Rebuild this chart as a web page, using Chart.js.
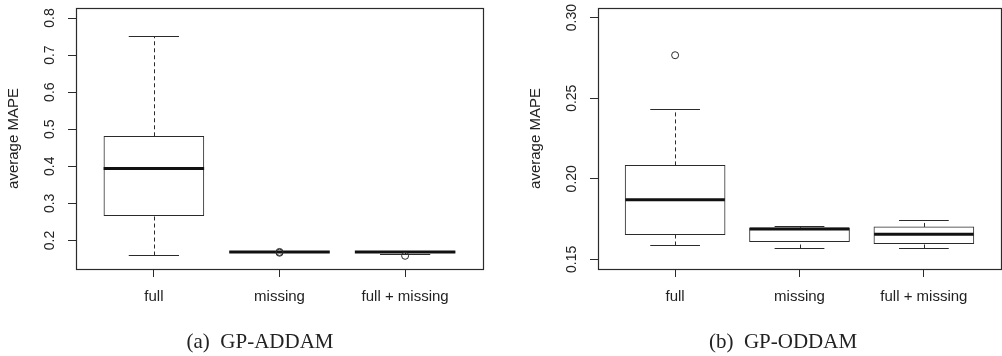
<!DOCTYPE html>
<html lang="en">
<head>
<meta charset="UTF-8">
<title>average MAPE boxplots</title>
<script src="https://cdn.jsdelivr.net/npm/chart.js"></script>
<style>
  body { margin: 0; width: 1002px; height: 356px; overflow: hidden; background: #fff; position: relative; }
  .panel { position: absolute; top: 0; height: 356px; }
  #left-panel { left: 0; width: 500px; }
  #right-panel { left: 522px; width: 484px; }
  .caption { position: absolute; top: 329px; line-height: 24px; font-family: "Liberation Serif", serif; font-size: 21px; color: #222; transform: translateX(-50%); white-space: nowrap; }
</style>
</head>
<body>

<div class="panel" id="left-panel"><canvas id="addamChart"></canvas></div>
<div class="panel" id="right-panel"><canvas id="oddamChart"></canvas></div>
<div class="caption" style="left:260px">(a)&nbsp; GP-ADDAM</div>
<div class="caption" style="left:783px">(b)&nbsp; GP-ODDAM</div>

<script>
    const groups = ["full", "missing", "full + missing"];

    // (a) GP-ADDAM
    const addamLow  = [0.161, 0.1688, 0.1623];
    const addamQ1   = [0.267, 0.1684, 0.1680];
    const addamMed  = [0.394, 0.1688, 0.1688];
    const addamQ3   = [0.481, 0.1692, 0.1694];
    const addamHigh = [0.752, 0.1692, 0.1694];
    const addamOutGroup = [2, 2, 3];
    const addamOutValue = [0.1690, 0.1668, 0.1586];

    // (b) GP-ODDAM
    const oddamLow  = [0.1587, 0.1571, 0.1568];
    const oddamQ1   = [0.1653, 0.1610, 0.1597];
    const oddamMed  = [0.1870, 0.1688, 0.1655];
    const oddamQ3   = [0.2083, 0.1696, 0.1701];
    const oddamHigh = [0.2432, 0.1704, 0.1742];
    const oddamOutGroup = [1];
    const oddamOutValue = [0.2767];

    const ink = "#2b2b2b";

    // whiskers under the boxes, medians on top, frame around the plot
    const boxWhiskers = {
        id: "boxWhiskers",
        beforeDatasetsDraw(chart, args, opts) {
            const { ctx, scales: { x, y } } = chart;
            const line = (x1, y1, x2, y2) => {
                ctx.beginPath(); ctx.moveTo(x1, y1); ctx.lineTo(x2, y2); ctx.stroke();
            };
            ctx.save();
            ctx.strokeStyle = ink;
            ctx.lineWidth = 1;
            opts.low.forEach((lo, i) => {
                const cx = Math.round(x.getPixelForValue(i + 1)) + 0.5;
                const capL = x.getPixelForValue(i + 1 - 0.2);
                const capR = x.getPixelForValue(i + 1 + 0.2);
                const yLo = Math.round(y.getPixelForValue(lo)) + 0.5;
                const yHi = Math.round(y.getPixelForValue(opts.high[i])) + 0.5;
                ctx.setLineDash([4, 3]);
                line(cx, yLo, cx, y.getPixelForValue(opts.q1[i]));
                line(cx, y.getPixelForValue(opts.q3[i]), cx, yHi);
                ctx.setLineDash([]);
                line(capL, yLo, capR, yLo);
                line(capL, yHi, capR, yHi);
            });
            ctx.restore();
        },
        afterDatasetDraw(chart, args, opts) {
            if (args.index !== 0) return;
            const { ctx, scales: { x, y } } = chart;
            ctx.save();
            ctx.strokeStyle = "#111";
            ctx.lineWidth = 3;
            opts.med.forEach((m, i) => {
                const ym = y.getPixelForValue(m);
                ctx.beginPath();
                ctx.moveTo(x.getPixelForValue(i + 1 - 0.4), ym);
                ctx.lineTo(x.getPixelForValue(i + 1 + 0.4), ym);
                ctx.stroke();
            });
            ctx.restore();
        },
        afterDraw(chart) {
            const { ctx, chartArea: a } = chart;
            ctx.save();
            ctx.strokeStyle = ink;
            ctx.lineWidth = 1.2;
            ctx.strokeRect(Math.round(a.left) + 0.5, Math.round(a.top) + 0.5,
                           Math.round(a.right - a.left), Math.round(a.bottom - a.top));
            ctx.restore();
        }
    };

    function makeBoxChart(canvasId, s) {
        return new Chart(document.getElementById(canvasId), {
            type: "bar",
            data: {
                datasets: [
                    {
                        label: "box",
                        data: groups.map((g, i) => ({ x: i + 1, y: [s.q1[i], s.q3[i]] })),
                        backgroundColor: "#fff",
                        borderColor: ink,
                        borderWidth: 1,
                        borderSkipped: false,
                        barThickness: 100,
                        order: 0
                    },
                    {
                        type: "scatter",
                        label: "outliers",
                        data: s.outGroup.map((g, i) => ({ x: g, y: s.outValue[i] })),
                        pointStyle: "circle",
                        pointRadius: 3.5,
                        pointBorderWidth: 1,
                        pointBorderColor: ink,
                        pointBackgroundColor: "rgba(0,0,0,0)",
                        order: -1
                    }
                ]
            },
            options: {
                responsive: true,
                maintainAspectRatio: false,
                animation: false,
                layout: { padding: { top: 8, bottom: 47, left: 0, right: s.padRight } },
                plugins: {
                    legend: { display: false },
                    tooltip: { enabled: false },
                    boxWhiskers: { low: s.low, q1: s.q1, med: s.med, q3: s.q3, high: s.high }
                },
                scales: {
                    x: {
                        type: "linear",
                        min: 0.38,
                        max: 3.62,
                        offset: false,
                        afterBuildTicks: (scale) => { scale.ticks = groups.map((g, i) => ({ value: i + 1 })); },
                        afterFit: (scale) => { scale.height = 40; scale.paddingLeft = 0; scale.paddingRight = 0; },
                        ticks: {
                            callback: (v) => groups[v - 1],
                            font: { family: "Liberation Sans", size: 15 },
                            color: "#222",
                            padding: 11,
                            maxRotation: 0,
                            autoSkip: false
                        },
                        grid: { drawOnChartArea: false, offset: false, tickLength: 8, color: ink },
                        border: { display: false }
                    },
                    y: {
                        min: s.yMin,
                        max: s.yMax,
                        afterFit: (scale) => { scale.width = 76; scale.paddingTop = 0; scale.paddingBottom = 0; },
                        ticks: {
                            stepSize: s.step,
                            includeBounds: false,
                            minRotation: 90,
                            maxRotation: 90,
                            crossAlign: "center",
                            padding: s.tickPad,
                            callback: (v) => v.toFixed(s.decimals),
                            font: { family: "Liberation Sans", size: 14 },
                            color: "#222"
                        },
                        grid: { drawOnChartArea: false, tickLength: 8, color: ink },
                        border: { display: false },
                        title: {
                            display: true,
                            text: "average MAPE",
                            font: { family: "Liberation Sans", size: 15 },
                            color: "#222",
                            padding: { top: 5, bottom: 0 }
                        }
                    }
                }
            },
            plugins: [boxWhiskers]
        });
    }

    makeBoxChart("addamChart", {
        low: addamLow, q1: addamQ1, med: addamMed, q3: addamQ3, high: addamHigh,
        outGroup: addamOutGroup, outValue: addamOutValue,
        yMin: 0.123, yMax: 0.827, step: 0.1, decimals: 1, tickPad: 8, padRight: 17
    });

    makeBoxChart("oddamChart", {
        low: oddamLow, q1: oddamQ1, med: oddamMed, q3: oddamQ3, high: oddamHigh,
        outGroup: oddamOutGroup, outValue: oddamOutValue,
        yMin: 0.144, yMax: 0.306, step: 0.05, decimals: 2, tickPad: 4, padRight: 1
    });
</script>
</body>
</html>
